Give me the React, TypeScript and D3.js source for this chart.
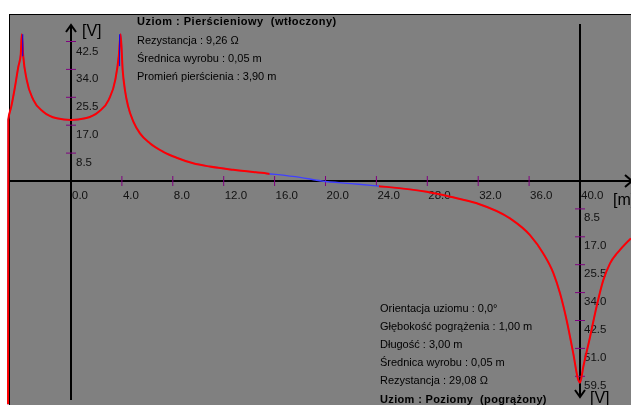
import React from "react";
import * as d3 from "d3";

// Potential profile along the measuring line [m, V]
const distances = [
  -4.95, -4.93, -4.7, -4.4, -4.14, -3.95, -3.87, -3.75, -3.48, -2.96, -2.18, -1.12, 0.0,
  1.12, 2.18, 2.96, 3.48, 3.75, 3.9, 4.06, 4.24, 4.5, 4.9, 5.42, 6.2, 7.25, 8.3, 9.6,
  10.9, 12.75, 15.38, 18.0, 19.7, 22.0, 24.0, 27.95, 29.8, 31.9, 34.5, 36.07, 37.1, 37.9,
  38.43, 38.95, 39.47, 39.87, 40.0, 40.26, 40.79, 41.3, 41.83, 42.36, 43.14, 44.0,
];
const potentials = [
  -68, 18.6, 22.5, 28.7, 34.8, 38.5, 44.7, 37.9, 30.8, 24.7, 21.1, 19.1, 18.6,
  19.1, 21.1, 24.7, 30.8, 37.9, 44.7, 33.8, 27.7, 22.6, 18.1, 14.5, 11.5, 8.9, 7.1, 5.4,
  4.4, 3.4, 2.3, 1.1, 0.0, -0.8, -1.5, -3.3, -4.8, -6.8, -11.4, -16.5, -22, -28,
  -34.2, -42.4, -52.5, -60.7, -61.5, -56.6, -47.5, -38.3, -30.2, -25.1, -21, -17.5,
];

// Stretch of the profile drawn in blue
const safeSpan = [15.6, 24.2];
// Ring peaks: distance, top and lower end of the blue stroke
const peakDistances = [-3.87, 3.9];
const peakTops = [44.7, 44.7];
const peakBottoms = [38.0, 35.0];
const peakOffsets = [1, -1];

const xTicks = [0, 4, 8, 12, 16, 20, 24, 28, 32, 36, 40];
const xTickLabels = ["0.0", "4.0", "8.0", "12.0", "16.0", "20.0", "24.0", "28.0", "32.0", "36.0", "40.0"];
const upTicks = [8.5, 17.0, 25.5, 34.0, 42.5];
const upTickLabels = ["8.5", "17.0", "25.5", "34.0", "42.5"];
const downTicks = [8.5, 17.0, 25.5, 34.0, 42.5, 51.0, 59.5];
const downTickLabels = ["8.5", "17.0", "25.5", "34.0", "42.5", "51.0", "59.5"];

const ringTitle = "Uziom : Pierścieniowy  (wtłoczony)";
const ringInfo = ["Rezystancja : 9,26 Ω", "Średnica wyrobu : 0,05 m", "Promień pierścienia : 3,90 m"];
const barInfo = [
  "Orientacja uziomu : 0,0°",
  "Głębokość pogrążenia : 1,00 m",
  "Długość : 3,00 m",
  "Średnica wyrobu : 0,05 m",
  "Rezystancja : 29,08 Ω",
];
const barTitle = "Uziom : Poziomy  (pogrążony)";

const W = 631;
const H = 405;
const FONT = "'Liberation Sans', Arial, sans-serif";
const TICK = "#800080";

export default function App() {
  const x = d3.scaleLinear().domain([0, 40]).range([71, 580]);
  const y = d3.scaleLinear().domain([0, 42.5]).range([181, 41.5]);
  const axisY = y(0);
  const leftX = x(0);
  const rightX = x(40);

  const pts: [number, number][] = distances.map((d, i) => [d, potentials[i]]);
  const line = d3
    .line<[number, number]>()
    .x((d) => x(d[0]))
    .y((d) => y(d[1]))
    .curve(d3.curveMonotoneX);
  const path = line(pts) || "";

  const s0 = x(safeSpan[0]);
  const s1 = x(safeSpan[1]);

  return (
    <svg
      width={W}
      height={H}
      style={{ position: "fixed", left: 0, top: 0, display: "block" }}
      fontFamily={FONT}
    >
      <defs>
        <clipPath id="redPart">
          <rect x={0} y={0} width={s0} height={H} />
          <rect x={s1} y={0} width={W - s1} height={H} />
        </clipPath>
      </defs>
      <rect x={0} y={0} width={W} height={H} fill="#ffffff" />
      <rect x={9.5} y={14.5} width={W} height={H} fill="#808080" stroke="#000" strokeWidth={1} />

      {/* axes */}
      <g stroke="#000" strokeWidth={2} fill="none">
        <line x1={10} y1={axisY} x2={W} y2={axisY} />
        <polyline points={`${W - 6},${axisY - 6} ${W + 1},${axisY} ${W - 6},${axisY + 6}`} />
        <line x1={leftX} y1={25} x2={leftX} y2={400} />
        <polyline points={`${leftX - 5},${32} ${leftX},${25} ${leftX + 5},${32}`} />
        <line x1={rightX} y1={24} x2={rightX} y2={397} />
        <polyline points={`${rightX - 5},${390} ${rightX},${397} ${rightX + 5},${390}`} />
      </g>

      {/* x ticks */}
      {xTicks.map((t, i) => (
        <g key={`xt${i}`}>
          {t !== 0 && t !== 40 && (
            <line x1={x(t)} x2={x(t)} y1={axisY - 5} y2={axisY + 5} stroke={TICK} strokeWidth={1} />
          )}
          <text x={x(t) + 1} y={axisY + 18} fontSize={11.5} fill="#111">
            {xTickLabels[i]}
          </text>
        </g>
      ))}

      {/* upward potential scale */}
      {upTicks.map((t, i) => (
        <g key={`ut${i}`}>
          <line x1={leftX - 5} x2={leftX + 5} y1={y(t)} y2={y(t)} stroke={TICK} strokeWidth={1} />
          <text x={leftX + 5} y={y(t) + 13} fontSize={11.5} fill="#111">
            {upTickLabels[i]}
          </text>
        </g>
      ))}

      {/* downward potential scale */}
      {downTicks.map((t, i) => (
        <g key={`dt${i}`}>
          <line x1={rightX - 5} x2={rightX + 5} y1={y(-t)} y2={y(-t)} stroke={TICK} strokeWidth={1} />
          <text x={rightX + 4} y={y(-t) + 12.5} fontSize={11.5} fill="#111">
            {downTickLabels[i]}
          </text>
        </g>
      ))}

      <text x={82} y={36} fontSize={16} fill="#000">[V]</text>
      <text x={590} y={403} fontSize={16} fill="#000">[V]</text>
      <text x={613} y={205} fontSize={16} fill="#000">[m]</text>

      {/* potential profile */}
      <path d={path} fill="none" stroke="#4040ff" strokeWidth={1.4} />
      <path d={path} fill="none" stroke="#ff0000" strokeWidth={2} clipPath="url(#redPart)" />
      {peakDistances.map((p, i) => (
        <line
          key={`pk${i}`}
          x1={x(p) + peakOffsets[i]}
          x2={x(p) + peakOffsets[i]}
          y1={y(peakTops[i])}
          y2={y(peakBottoms[i])}
          stroke="#0000ff"
          strokeWidth={1}
        />
      ))}

      {/* electrode descriptions */}
      <text
        x={137}
        y={25}
        fontSize={11}
        fontWeight="bold"
        fill="#000"
        letterSpacing={0.5}
        style={{ whiteSpace: "pre" }}
      >
        {ringTitle}
      </text>
      {ringInfo.map((s, i) => (
        <text key={`ri${i}`} x={137} y={44 + i * 18} fontSize={11} fill="#000">
          {s}
        </text>
      ))}
      {barInfo.map((s, i) => (
        <text key={`bi${i}`} x={380} y={312 + i * 18} fontSize={11} fill="#000">
          {s}
        </text>
      ))}
      <text
        x={380}
        y={403}
        fontSize={11}
        fontWeight="bold"
        fill="#000"
        letterSpacing={0.35}
        style={{ whiteSpace: "pre" }}
      >
        {barTitle}
      </text>
    </svg>
  );
}
